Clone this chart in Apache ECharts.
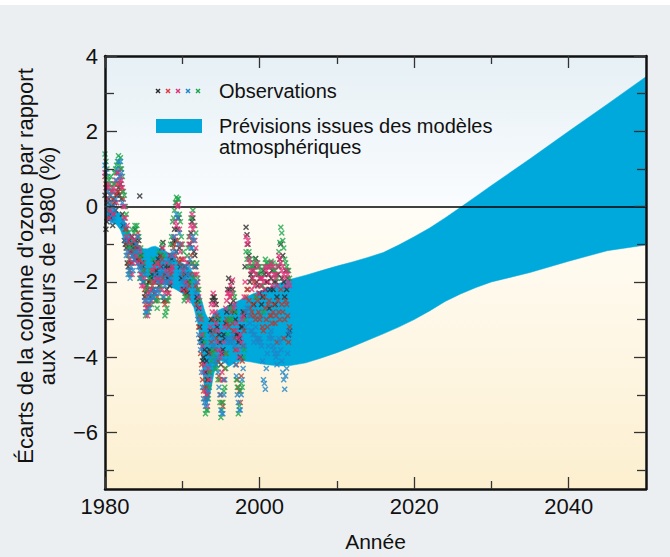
<!DOCTYPE html>
<html>
<head>
<meta charset="utf-8">
<script src="https://cdn.jsdelivr.net/npm/echarts@6/dist/echarts.min.js"></script>
<style>
html,body{margin:0;padding:0;background:#eceff2;}
#chart{width:670px;height:557px;}
</style>
</head>
<body>
<div id="chart"></div>
<script>
// ---- Data ----
const xTickLabels = [1980, 2000, 2020, 2040];
const xMinorTicks = [1990, 2010, 2030];
const yTickLabels = [-6, -4, -2, 0, 2, 4];
const yMinorTicks = [-7, -5, -3, -1, 1, 3];

// Model band (upper / lower envelope, % deviation)
const bandYears = [1980, 1980.5, 1981, 1981.5, 1982, 1982.5, 1983, 1983.5, 1984, 1984.5, 1985, 1985.5, 1986, 1986.5, 1987, 1988, 1989, 1990, 1991, 1991.5, 1992, 1992.3, 1992.6, 1992.8, 1993, 1993.2, 1993.5, 1993.8, 1994.1, 1994.5, 1995, 1995.6, 1996, 1996.4, 1997, 1998, 1999, 2000, 2001, 2002, 2003, 2004, 2006, 2008, 2010, 2012, 2014, 2016, 2018, 2020, 2022, 2024, 2026, 2028, 2030, 2035, 2040, 2045, 2050];
const bandUpper = [-0.05, -0.05, -0.08, -0.12, -0.18, -0.38, -0.6, -0.8, -0.95, -1.05, -1.12, -1.12, -1.07, -1.05, -1.1, -1.2, -1.38, -1.5, -1.65, -1.78, -2.1, -2.35, -2.55, -2.7, -2.83, -2.92, -3.0, -2.93, -2.83, -2.77, -2.72, -2.67, -2.62, -2.6, -2.53, -2.43, -2.33, -2.25, -2.17, -2.08, -2.0, -1.93, -1.82, -1.7, -1.58, -1.47, -1.35, -1.22, -1.02, -0.8, -0.57, -0.3, -0.02, 0.27, 0.56, 1.27, 2.0, 2.72, 3.45];
const bandLower = [-0.35, -0.38, -0.42, -0.48, -0.62, -0.9, -1.15, -1.35, -1.5, -1.65, -1.8, -1.9, -1.97, -2.0, -2.02, -2.08, -2.18, -2.3, -2.5, -2.68, -3.1, -3.5, -4.2, -4.7, -5.1, -5.22, -5.05, -4.75, -4.42, -4.2, -4.09, -4.15, -4.25, -4.2, -4.12, -4.1, -4.13, -4.17, -4.2, -4.22, -4.23, -4.22, -4.15, -4.02, -3.88, -3.72, -3.55, -3.38, -3.2, -3.0, -2.77, -2.52, -2.32, -2.15, -2.0, -1.75, -1.45, -1.17, -1.02];

// Observations: values every 1/8 year from 1980.000 to 2003.875.
// "Q" arrays hold the quarter points (1980.00, 1980.25, ...),
// "M" arrays the points between them (1980.125, 1980.375, ...).
const obsStartYear = 1980;
const obsBlackQ = [
 0.3,-0.4,0.2,-0.3,  -0.5,0.1,0.3,0.5,  0.6,-0.2,-0.9,-1.1,  -1.6,-1.2,-0.8,-1.0,
 -0.9,-1.1,0.28,-1.5,  -2.0,-2.3,-2.2,-2.0,  -1.9,-2.2,-1.5,-1.8,  -2.1,-1.6,-0.95,-1.8,
 -2.2,-1.6,-1.3,-1.0,  -0.6,-1.2,-0.3,-1.6,  -1.9,-2.2,-1.8,-2.0,  -1.0,-0.4,-1.2,-1.6,
 -2.5,-3.2,-3.6,-4.0,  -4.4,-4.6,-3.8,-3.0,  -2.4,-2.5,-3.2,-3.4,  -4.2,-3.8,-3.5,-2.8,
 -1.9,-2.6,-2.2,-2.8,  -3.4,-3.6,-4.0,-3.2,  -2.9,-0.55,-1.0,-2.0,  -1.9,-2.6,-1.38,-2.1,
 -2.3,-2.6,-1.7,-2.2,  -2.0,-2.7,-1.9,-2.2,  -2.6,-2.4,-1.6,-1.0,  -1.3,-2.4,-2.2,-3.4
];
const obsBlackM = [
 -0.6,0.1,-0.2,0.0,  0.2,-0.1,0.4,0.3,  0.2,-0.5,-1.0,-1.5,  -0.9,-1.5,-1.1,-0.6,
 -1.4,-0.9,-1.3,-1.6,  -2.4,-2.1,-2.0,-2.4,  -1.8,-2.3,-1.7,-1.4,  -1.3,-1.1,-2.5,-1.6,
 -1.9,-2.1,-1.4,-0.9,  -0.9,-0.6,-1.1,-1.9,  -2.2,-1.6,-2.3,-1.5,  -0.7,-0.3,-1.3,-2.4,
 -2.7,-3.5,-4.1,-3.8,  -4.1,-3.9,-3.3,-2.5,  -2.4,-2.6,-3.0,-3.6,  -3.9,-3.4,-3.1,-2.2,
 -2.2,-2.0,-2.5,-3.0,  -3.4,-3.5,-3.2,-2.8,  -1.6,-0.75,-1.3,-1.8,  -1.7,-1.6,-2.0,-1.8,
 -1.9,-2.4,-1.8,-2.0,  -1.8,-2.2,-1.7,-2.0,  -2.0,-1.8,-1.4,-1.9,  -2.0,-1.7,-1.9,-3.3
];
const obsRedQ = [
 0.8,0.5,-0.1,0.4,  0.2,0.6,0.9,0.4,  1.0,0.4,-0.3,-0.6,  -1.3,-1.7,-1.5,-1.3,
 -1.2,-0.7,-1.4,-1.8,  -1.7,-2.6,-2.7,-2.3,  -2.2,-1.7,-2.0,-2.4,  -1.5,-1.3,-1.9,-2.6,
 -2.5,-2.0,-1.8,-1.3,  -1.0,0.1,-1.4,-1.0,  -1.4,-1.6,-2.2,-2.4,  -1.8,-0.9,-1.6,-2.1,
 -2.2,-2.9,-4.2,-4.9,  -5.1,-5.0,-4.4,-3.6,  -3.0,-3.8,-2.9,-4.5,  -5.0,-5.3,-4.3,-3.0,
 -3.2,-2.4,-3.1,-3.5,  -4.2,-4.8,-5.2,-4.1,  -3.3,-2.4,-2.2,-2.7,  -2.8,-2.0,-3.0,-2.5,
 -3.0,-2.1,-3.3,-2.7,  -3.2,-2.5,-2.9,-2.8,  -3.1,-3.6,-2.8,-2.2,  -2.8,-3.0,-2.6,-3.6
];
const obsRedM = [
 0.6,-0.3,0.3,0.1,  -0.2,0.3,0.6,0.7,  0.5,0.2,-0.6,-1.0,  -1.5,-1.0,-1.2,-1.1,
 -1.0,-1.4,-1.6,-1.9,  -2.2,-2.4,-2.6,-2.0,  -2.1,-2.0,-2.5,-1.9,  -2.0,-1.4,-1.8,-2.5,
 -2.3,-1.7,-1.6,-1.1,  -1.3,-0.9,-1.5,-1.4,  -1.8,-2.3,-2.0,-2.1,  -1.3,-1.5,-1.8,-2.6,
 -3.2,-3.9,-4.6,-4.8,  -4.8,-4.6,-3.9,-3.4,  -3.3,-3.5,-4.1,-4.6,  -5.2,-4.6,-3.9,-3.1,
 -3.0,-2.8,-3.3,-3.8,  -4.6,-4.9,-4.5,-3.7,  -2.8,-2.2,-2.5,-2.9,  -2.6,-2.9,-2.4,-2.8,
 -2.9,-3.2,-2.4,-3.0,  -2.6,-2.9,-3.1,-2.6,  -2.9,-2.5,-3.0,-2.6,  -3.5,-2.5,-2.9,-3.2
];
const obsPinkQ = [
 0.9,0.2,0.5,-0.1,  -0.2,0.4,0.1,0.9,  0.8,0.5,0.0,-0.8,  -0.9,-1.4,-1.8,-0.9,
 -1.3,-1.5,-1.2,-2.1,  -2.1,-2.5,-2.9,-2.6,  -2.5,-2.0,-2.3,-1.5,  -1.9,-2.0,-1.1,-2.3,
 -1.5,-2.3,-2.0,-1.6,  -0.8,-0.5,0.05,-1.2,  -2.2,-1.4,-2.1,-2.5,  -0.8,-0.2,-0.5,-1.1,
 -2.0,-2.7,-3.4,-4.4,  -4.9,-5.3,-4.6,-2.6,  -2.3,-2.8,-3.6,-3.8,  -3.9,-4.6,-3.2,-2.5,
 -2.3,-2.1,-1.95,-2.6,  -3.1,-3.5,-3.4,-3.0,  -2.4,-0.8,-0.9,-1.5,  -2.2,-1.7,-1.8,-1.6,
 -1.9,-1.9,-2.0,-1.6,  -1.6,-1.8,-1.5,-1.6,  -1.9,-2.1,-1.3,-1.5,  -1.6,-1.9,-1.7,-2.0
];
const obsPinkM = [
 0.5,0.6,-0.3,0.4,  0.5,0.7,0.9,0.6,  0.7,0.0,-0.3,-0.5,  -1.2,-0.8,-1.5,-1.4,
 -0.8,-1.1,-1.8,-1.5,  -1.9,-2.7,-2.3,-2.2,  -1.7,-1.6,-1.9,-2.2,  -1.6,-2.2,-2.0,-1.7,
 -1.8,-1.3,-1.7,-1.3,  -0.4,0.0,-0.6,-1.0,  -1.7,-2.0,-1.5,-1.0,  -0.5,-0.6,-0.9,-1.8,
 -2.4,-3.0,-3.7,-4.2,  -5.0,-4.3,-3.2,-2.8,  -2.6,-3.1,-3.3,-4.0,  -4.4,-3.6,-2.7,-2.3,
 -2.4,-2.3,-2.7,-3.3,  -3.8,-4.0,-3.6,-2.9,  -2.0,-1.0,-1.4,-1.7,  -1.9,-2.1,-1.5,-2.3,
 -2.1,-1.9,-2.2,-1.7,  -2.0,-1.6,-2.1,-1.8,  -1.8,-1.6,-1.4,-1.7,  -1.8,-2.1,-1.8,-2.1
];
const obsBlueQ = [
 1.1,0.0,-0.2,0.3,  0.0,-0.1,0.7,1.2,  1.2,0.1,-0.5,-1.3,  -1.8,-1.9,-1.3,-1.4,
 -1.0,-0.8,-1.7,-1.6,  -1.8,-2.8,-2.5,-2.7,  -2.3,-2.4,-1.8,-2.2,  -2.3,-1.8,-1.5,-2.1,
 -1.8,-1.4,-1.5,-1.2,  -1.4,-0.2,-1.0,-1.8,  -2.0,-1.9,-1.6,-1.8,  -1.4,-1.1,-0.9,-2.3,
 -3.0,-3.6,-4.4,-5.1,  -5.3,-5.1,-4.2,-3.4,  -3.5,-4.1,-4.0,-4.8,  -5.4,-5.5,-4.6,-3.5,
 -3.5,-3.6,-3.4,-3.7,  -4.5,-5.2,-5.4,-4.6,  -3.7,-2.8,-2.7,-3.1,  -3.3,-3.6,-3.2,-3.6,
 -3.5,-3.7,-4.6,-4.85,  -3.9,-3.5,-3.3,-3.7,  -3.9,-4.2,-3.5,-3.8,  -4.4,-4.85,-4.3,-3.3
];
const obsBlueM = [
 0.9,0.4,0.1,-0.4,  -0.3,0.2,1.0,0.8,  0.9,-0.4,-0.9,-1.2,  -1.7,-1.6,-1.7,-1.2,
 -1.2,-1.6,-1.9,-2.0,  -2.5,-2.8,-2.4,-2.5,  -2.4,-2.2,-2.3,-2.0,  -1.8,-1.7,-2.4,-2.0,
 -2.0,-1.9,-1.3,-0.8,  -1.2,-0.3,-0.7,-1.6,  -1.9,-2.1,-1.8,-1.6,  -1.1,-0.8,-1.6,-2.0,
 -3.4,-3.8,-4.8,-5.2,  -5.2,-4.9,-4.0,-3.7,  -3.7,-4.2,-4.4,-5.0,  -5.5,-5.0,-4.1,-3.6,
 -3.6,-3.5,-3.6,-4.2,  -5.0,-5.4,-5.0,-4.3,  -3.2,-2.7,-2.9,-3.3,  -3.4,-3.4,-3.5,-3.5,
 -3.6,-4.1,-4.7,-4.3,  -3.7,-3.4,-3.5,-3.8,  -4.0,-3.9,-3.6,-4.1,  -4.6,-4.5,-3.9,-3.4
];
const obsGreenQ = [
 1.4,1.0,0.7,0.8,  0.4,0.9,1.1,1.35,  1.3,0.8,0.3,-0.2,  -1.1,-1.8,-0.6,-0.7,
 -0.6,-1.3,-1.9,-1.3,  -1.5,-2.9,-2.1,-1.9,  -2.6,-1.4,-2.5,-2.7,  -1.2,-2.1,-2.4,-2.9,
 -2.7,-2.4,-1.0,-0.4,  -0.1,0.25,0.2,-0.4,  -1.0,-2.5,-2.4,-1.1,  -2.0,-1.5,-1.9,-0.7,
 -1.9,-2.5,-3.0,-3.4,  -5.5,-5.4,-4.8,-4.1,  -3.9,-4.3,-4.3,-3.0,  -5.6,-5.2,-4.8,-3.9,
 -3.0,-3.0,-2.7,-2.4,  -4.6,-5.5,-4.9,-4.8,  -3.8,-1.2,-1.6,-1.4,  -1.6,-1.5,-2.4,-1.5,
 -1.6,-1.8,-2.8,-1.4,  -1.5,-1.6,-1.45,-1.5,  -1.7,-1.9,-1.2,-0.55,  -0.9,-1.4,-1.6,-1.7
];
const obsGreenM = [
 1.2,0.8,0.6,0.5,  0.6,1.0,1.2,1.1,  1.0,0.4,0.0,-0.7,  -1.4,-1.1,-0.9,-0.5,
 -0.5,-0.8,-1.1,-1.7,  -2.0,-2.2,-2.8,-1.7,  -2.0,-2.4,-1.5,-2.5,  -2.2,-1.0,-1.3,-2.8,
 -2.5,-1.5,-0.8,-0.3,  0.1,0.2,-0.2,-0.8,  -1.2,-2.4,-1.3,-0.8,  -0.3,-0.1,-0.5,-1.5,
 -2.2,-2.9,-3.4,-3.6,  -5.4,-5.1,-4.4,-3.8,  -4.0,-4.2,-4.6,-5.2,  -5.4,-4.9,-4.3,-3.4,
 -2.7,-3.0,-2.3,-2.8,  -4.8,-5.3,-4.7,-4.0,  -3.0,-1.4,-1.2,-1.6,  -1.6,-1.4,-1.8,-1.6,
 -1.7,-2.1,-1.6,-1.5,  -1.6,-1.5,-1.6,-1.7,  -1.8,-1.55,-0.95,-0.7,  -1.1,-1.5,-1.7,-1.9
];

// drawing order: last one on top
const obsSeries = [
  {name: 'noir', q: obsBlackQ, m: obsBlackM, color: '#2a2a2a'},
  {name: 'rouge', q: obsRedQ, m: obsRedM, color: '#b8392f'},
  {name: 'vert', q: obsGreenQ, m: obsGreenM, color: '#19a64a'},
  {name: 'rose', q: obsPinkQ, m: obsPinkM, color: '#e0307a'},
  {name: 'bleu', q: obsBlueQ, m: obsBlueM, color: '#1f86c8'}
];
const legendCrossColors = ['#2a2a2a', '#e03a3e', '#e0307a', '#1f86c8', '#19a64a'];

// ---- Build ----
const FONT = "'Liberation Sans', Arial, Helvetica, sans-serif";
const crossPath = 'path://M0,1.7L1.7,0L5,3.3L8.3,0L10,1.7L6.7,5L10,8.3L8.3,10L5,6.7L1.7,10L0,8.3L3.3,5Z';
const fmtMinus = v => v < 0 ? '\u2212' + Math.abs(v) : String(v);
const BAND_COLOR = '#00a9dc';

const bandData = bandYears.map((y, i) => [y, bandLower[i], bandUpper[i]]);

const scatterSeries = obsSeries.map(s => ({
  type: 'scatter',
  name: s.name,
  symbol: crossPath,
  symbolSize: 6,
  z: 4,
  itemStyle: {color: s.color},
  data: s.q.map((v, i) => [obsStartYear + i / 4, v])
    .concat(s.m.map((v, i) => [obsStartYear + i / 4 + 0.125, v])),
  silent: true
}));

const AX = '#111';
function xAx(pos, major, showLine) {
  return {
    type: 'value', min: 1980, max: 2050, position: pos, z: 10,
    axisLine: {show: showLine, onZero: false, lineStyle: {color: AX, width: 2.5}},
    axisTick: {show: true, inside: true, length: major ? 12 : 8,
      customValues: major ? xTickLabels : xMinorTicks, lineStyle: {color: '#333', width: 1.3}},
    axisLabel: {show: false},
    splitLine: {show: false}
  };
}
function yAx(pos, major, showLine) {
  return {
    type: 'value', min: -7.5, max: 4, position: pos, z: 10,
    axisLine: {show: showLine, onZero: false, lineStyle: {color: AX, width: 2.5}},
    axisTick: {show: true, inside: true, length: major ? 12 : 9,
      customValues: major ? yTickLabels : yMinorTicks, lineStyle: {color: '#333', width: 1.3}},
    axisLabel: {show: false},
    splitLine: {show: false}
  };
}

const xAxes = [xAx('bottom', true, true), xAx('bottom', false, false), xAx('top', true, true), xAx('top', false, false)];
xAxes[0].axisLabel = {show: true, customValues: xTickLabels, formatter: v => String(v),
  fontSize: 22, fontFamily: FONT, color: '#111', margin: 6};
xAxes[0].name = 'Année';
xAxes[0].nameLocation = 'middle';
xAxes[0].nameGap = 42;
xAxes[0].nameTextStyle = {fontSize: 21, fontFamily: FONT, color: '#111'};

const yAxes = [yAx('left', true, true), yAx('left', false, false), yAx('right', true, true), yAx('right', false, false)];
yAxes[0].axisLabel = {show: true, customValues: yTickLabels, formatter: fmtMinus,
  fontSize: 22, fontFamily: FONT, color: '#111', margin: 7};

const chart = echarts.init(document.getElementById('chart'), null, {renderer: 'svg'});
chart.setOption({
  backgroundColor: '#eceff2',
  animation: false,
  grid: {
    left: 105, right: 24, top: 56, bottom: 66.5, show: true, borderWidth: 0,
    backgroundColor: {type: 'linear', x: 0, y: 0, x2: 0, y2: 1, colorStops: [
      {offset: 0, color: '#e6f0f5'},
      {offset: 0.347, color: '#fafcfe'},
      {offset: 0.349, color: '#fffdf6'},
      {offset: 0.7, color: '#fef6e3'},
      {offset: 1, color: '#fcefcf'}
    ]}
  },
  xAxis: xAxes,
  yAxis: yAxes,
  series: [
    {type: 'custom', name: 'Prévisions', data: bandData, clip: true, silent: true, z: 2,
      encode: {x: 0, y: [1, 2]},
      renderItem: function (params, api) {
        if (params.dataIndex !== 0) return null;
        const pts = [];
        for (let i = 0; i < bandYears.length; i++) pts.push(api.coord([bandYears[i], bandUpper[i]]));
        for (let i = bandYears.length - 1; i >= 0; i--) pts.push(api.coord([bandYears[i], bandLower[i]]));
        return {type: 'polygon', shape: {points: pts}, style: {fill: BAND_COLOR, stroke: BAND_COLOR, lineWidth: 0.5}};
      },
      markLine: {silent: true, symbol: 'none', label: {show: false}, z: 3,
        lineStyle: {color: '#000', width: 1.5, type: 'solid'}, data: [{yAxis: 0}]}}
  ].concat(scatterSeries),
  graphic: [
    {type: 'rect', left: 0, top: 0, shape: {width: 670, height: 5}, style: {fill: '#ffffff'}, silent: true},
    {type: 'text', x: 36, y: 266, rotation: Math.PI / 2,
      style: {text: "Écarts de la colonne d'ozone par rapport\naux valeurs de 1980 (%)",
        fontSize: 22, lineHeight: 22, fontFamily: FONT, fill: '#111', align: 'center', verticalAlign: 'middle'}},
    {type: 'text', x: 219, y: 91,
      style: {text: 'Observations', fontSize: 20, fontFamily: FONT, fill: '#111', align: 'left', verticalAlign: 'middle'}},
    {type: 'rect', shape: {x: 156, y: 119, width: 46, height: 14}, style: {fill: BAND_COLOR}},
    {type: 'text', x: 219, y: 126,
      style: {text: 'Prévisions issues des modèles', fontSize: 20, fontFamily: FONT, fill: '#111', align: 'left', verticalAlign: 'middle'}},
    {type: 'text', x: 219, y: 147,
      style: {text: 'atmosphériques', fontSize: 20, fontFamily: FONT, fill: '#111', align: 'left', verticalAlign: 'middle'}}
  ].concat(legendCrossColors.map((c, i) => ({
    type: 'group', x: 158 + i * 10, y: 91,
    children: [
      {type: 'line', shape: {x1: -2, y1: -2, x2: 2, y2: 2}, style: {stroke: c, lineWidth: 1.4}},
      {type: 'line', shape: {x1: -2, y1: 2, x2: 2, y2: -2}, style: {stroke: c, lineWidth: 1.4}}
    ]
  })))
});
</script>
</body>
</html>
